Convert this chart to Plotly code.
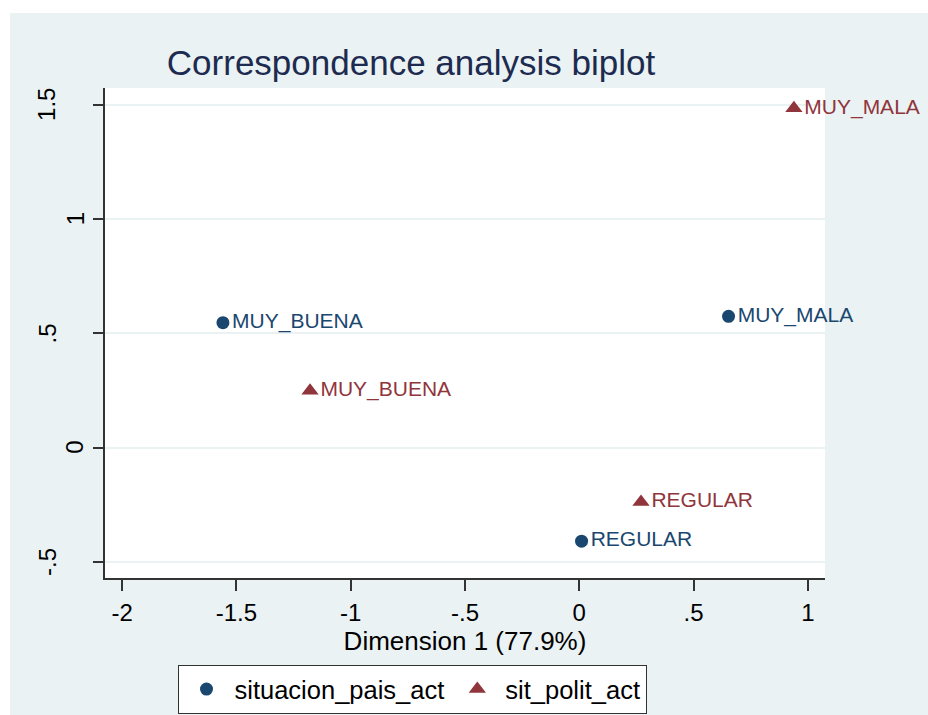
import plotly.graph_objects as go

# Data
row_labels = ["MUY_BUENA", "MUY_MALA", "REGULAR"]
row_dim1 = [-1.559, 0.653, 0.010]
row_dim2 = [0.547, 0.575, -0.409]

col_labels = ["MUY_BUENA", "MUY_MALA", "REGULAR"]
col_dim1 = [-1.178, 0.939, 0.270]
col_dim2 = [0.249, 1.485, -0.238]

x_ticks = [-2, -1.5, -1, -0.5, 0, 0.5, 1]
x_ticktext = ["-2", "-1.5", "-1", "-.5", "0", ".5", "1"]
y_ticks = [-0.5, 0, 0.5, 1, 1.5]
y_ticktext = ["-.5", "0", ".5", "1", "1.5"]

FONT = "Liberation Sans, Arial, Helvetica, sans-serif"
BG = "#EAF2F3"
NAVY = "#1A476F"
MAROON = "#90353B"
AX = "#333333"

W, H = 928, 715
L, T = 105, 88
R = W - 825
B = H - 578
PW, PH = W - L - R, H - T - B


def px_x(p):
    """screen px -> paper x"""
    return (p - L) / PW


def px_y(p):
    """screen px -> paper y"""
    return (H - B - p) / PH


fig = go.Figure()
fig.add_trace(go.Scatter(
    x=row_dim1, y=row_dim2, mode="markers+text", text=row_labels,
    textposition="middle right", name="situacion_pais_act",
    marker=dict(symbol="circle", size=13, color=NAVY),
    textfont=dict(family=FONT, size=21, color=NAVY), cliponaxis=False,
))
fig.add_trace(go.Scatter(
    x=col_dim1, y=col_dim2, mode="markers+text", text=col_labels,
    textposition="middle right", name="sit_polit_act",
    marker=dict(symbol="triangle-up", size=15, color=MAROON),
    textfont=dict(family=FONT, size=21, color=MAROON), cliponaxis=False,
))

# rotated y tick labels placed like the reference
annotations = []
for v, t in zip(y_ticks, y_ticktext):
    shift = -30 if len(t) == 1 else -58
    annotations.append(dict(
        x=0, xref="paper", y=v, yref="y", text=t, textangle=-90, showarrow=False,
        xanchor="center", yanchor="middle", xshift=shift,
        font=dict(family=FONT, size=24, color="black"),
    ))

fig.update_layout(
    width=W, height=H,
    margin=dict(l=L, r=R, t=T, b=B, autoexpand=False),
    paper_bgcolor=BG, plot_bgcolor="white",
    font=dict(family=FONT, color="black"),
    title=dict(text="Correspondence analysis biplot", x=411 / W, xanchor="center",
               y=1 - 63 / H, yanchor="middle", xref="container", yref="container",
               font=dict(family=FONT, size=35, color="#1E2B50")),
    xaxis=dict(range=[-2.075, 1.075], tickvals=x_ticks, ticktext=x_ticktext,
               showgrid=False, zeroline=False, showline=True, linecolor=AX,
               linewidth=1.5, ticks="outside", ticklen=11, tickwidth=1.5, tickcolor=AX,
               tickfont=dict(size=24, color="black"), ticklabelstandoff=1,
               title=dict(text="Dimension 1 (77.9%)", font=dict(size=26, color="black"), standoff=0)),
    yaxis=dict(range=[-0.570, 1.574], tickvals=y_ticks, ticktext=y_ticktext,
               showticklabels=False,
               showgrid=True, gridcolor=BG, gridwidth=1.5, zeroline=False,
               showline=True, linecolor=AX, linewidth=1.5,
               ticks="outside", ticklen=10, tickwidth=1.5, tickcolor=AX),
    showlegend=True,
    legend=dict(orientation="h", x=px_x(412), xanchor="center", y=px_y(665), yanchor="top",
                bgcolor="white", bordercolor=AX, borderwidth=1,
                font=dict(size=25.5, color="black"), itemwidth=46),
    annotations=annotations,
    shapes=[
        dict(type="rect", xref="paper", yref="paper", x0=px_x(-20), x1=px_x(10),
             y0=px_y(800), y1=px_y(-20), fillcolor="white", line=dict(width=0)),
        dict(type="rect", xref="paper", yref="paper", x0=px_x(-20), x1=px_x(1000),
             y0=px_y(13), y1=px_y(-20), fillcolor="white", line=dict(width=0)),
    ],
)

fig.write_html(
    "out.html",
    config={"displayModeBar": False},
    post_script="document.documentElement.style.overflow='hidden';"
                "document.body.style.margin='0';document.body.style.overflow='hidden';",
)
